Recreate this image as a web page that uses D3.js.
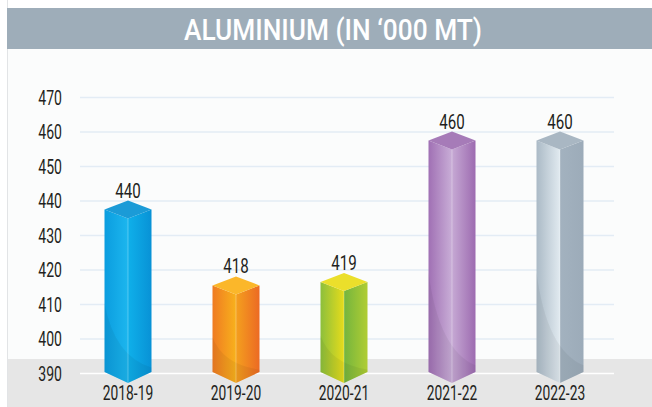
<!DOCTYPE html>
<html>
<head>
<meta charset="utf-8">
<script src="https://cdn.jsdelivr.net/npm/d3@7"></script>
<style>
  html, body { margin: 0; padding: 0; background: #ffffff; }
  svg { display: block; }
  text { font-family: "Roboto", "Noto Sans", sans-serif; }
</style>
</head>
<body>
<svg id="chart" width="652" height="407"></svg>
<script>
const titleText = "ALUMINIUM (IN \u2018000 MT)";
const categories = ["2018-19", "2019-20", "2020-21", "2021-22", "2022-23"];
const values = [440, 418, 419, 460, 460];
const tickValues = [390, 400, 410, 420, 430, 440, 450, 460, 470];
// per bar: top, left face (from, to), right face (from, to)
const barColors = [
  { top: "#1b9bd7", l1: "#0b9ddf", l2: "#1cb6ee", r1: "#0fb0ea", r2: "#0892d6" },
  { top: "#fbb72a", l1: "#ef7b22", l2: "#f8b11c", r1: "#f4a01e", r2: "#ec6a24" },
  { top: "#ebdf2b", l1: "#8cbf3c", l2: "#e6dc1b", r1: "#74b53e", r2: "#b0cd33" },
  { top: "#a67bb8", l1: "#a070b4", l2: "#c9aed7", r1: "#c6a9d4", r2: "#9d6bb0" },
  { top: "#a9b7c3", l1: "#abbac6", l2: "#e1eaf0", r1: "#a3b2bf", r2: "#9cabb9" }
];

const svg = d3.select("#chart");
const W = 652, H = 407;
const SX = 0.72; // horizontal condensing of text

// backgrounds
svg.append("rect").attr("x", 7).attr("y", 49).attr("width", W - 7).attr("height", 310).attr("fill", "#fbfcfc");
svg.append("rect").attr("x", 7).attr("y", 359).attr("width", W - 7).attr("height", H - 359).attr("fill", "#e6e6e6");
svg.append("line").attr("x1", 7.5).attr("x2", 7.5).attr("y1", 0).attr("y2", H).attr("stroke", "#e2e4e6").attr("stroke-width", 1);
svg.append("rect").attr("x", 7).attr("y", 8).attr("width", W - 7).attr("height", 41).attr("fill", "#9eadb9");
svg.append("text").attr("x", 333).attr("y", 40).attr("text-anchor", "middle")
  .attr("fill", "#ffffff").attr("font-size", 29).attr("font-weight", 500)
  .attr("textLength", 298).attr("lengthAdjust", "spacingAndGlyphs")
  .text(titleText);

const x = d3.scaleBand().domain(categories).range([74, 614]).padding(0);
const y = d3.scaleLinear().domain([390, 470]).range([373, 97]);

// gridlines
const grid = svg.append("g").attr("transform", "translate(80,0)")
  .call(d3.axisLeft(y).tickValues(tickValues).tickSize(-(614 - 80)).tickFormat(""));
grid.select(".domain").remove();
grid.selectAll(".tick line").attr("stroke", d => d === 390 ? "#ffffff" : "#e3ecf5").attr("stroke-width", 1.5);

// y tick labels
const yAxis = svg.append("g").attr("transform", "translate(62,0)")
  .call(d3.axisLeft(y).tickValues(tickValues).tickSize(0).tickPadding(0));
yAxis.select(".domain").remove();
yAxis.selectAll(".tick text").attr("font-size", 19.5).attr("fill", "#231f20").attr("font-weight", 400)
  .attr("font-family", "Roboto, sans-serif").attr("x", 0).attr("dy", "0.36em")
  .attr("transform", `scale(${SX},1)`);

// gradients
const defs = svg.append("defs");
barColors.forEach((c, i) => {
  const gl = defs.append("linearGradient").attr("id", "gl" + i).attr("x1", 0).attr("x2", 1).attr("y1", 0).attr("y2", 0);
  gl.append("stop").attr("offset", 0).attr("stop-color", c.l1);
  gl.append("stop").attr("offset", 1).attr("stop-color", c.l2);
  const gr = defs.append("linearGradient").attr("id", "gr" + i).attr("x1", 0).attr("x2", 1).attr("y1", 0).attr("y2", 0);
  gr.append("stop").attr("offset", 0).attr("stop-color", c.r1);
  gr.append("stop").attr("offset", 1).attr("stop-color", c.r2);
});

const hw = 23.5, dep = 9;
const data = categories.map((c, i) => ({ c, v: values[i], i }));
const bars = svg.append("g").selectAll("g").data(data).join("g");

bars.each(function(d) {
  const g = d3.select(this);
  const cx = x(d.c) + x.bandwidth() / 2;
  const yt = y(d.v);
  const yb = y(390) - 1;
  // left face
  g.append("path").attr("d", `M${cx - hw},${yt + dep} L${cx},${yt + 2 * dep} L${cx},${yb + dep + 2} L${cx - hw},${yb} Z`)
    .attr("fill", `url(#gl${d.i})`);
  // right face
  g.append("path").attr("d", `M${cx},${yt + 2 * dep} L${cx + hw},${yt + dep} L${cx + hw},${yb} L${cx},${yb + dep + 2} Z`)
    .attr("fill", `url(#gr${d.i})`);
  // subtle curved shade on lower part
  const h = yb - (yt + 2 * dep);
  const cy0 = yt + 2 * dep + h * 0.55;
  g.append("path").attr("d", `M${cx - hw},${cy0} Q${cx - hw + 10},${cy0 + h * 0.35} ${cx + hw},${cy0 + h * 0.42} L${cx + hw},${yb} L${cx},${yb + dep + 2} L${cx - hw},${yb} Z`)
    .attr("fill", "#000000").attr("opacity", 0.05);
  // edge highlight
  g.append("line").attr("x1", cx).attr("x2", cx).attr("y1", yt + 2 * dep).attr("y2", yb + dep + 2)
    .attr("stroke", "#ffffff").attr("stroke-opacity", 0.35).attr("stroke-width", 0.8);
  // top
  g.append("path").attr("d", `M${cx - hw},${yt + dep} L${cx},${yt} L${cx + hw},${yt + dep} L${cx},${yt + 2 * dep} Z`)
    .attr("fill", barColors[d.i].top);
  // value label
  g.append("g").attr("transform", `translate(${cx},${yt - 3})`)
    .append("text").attr("x", 0).attr("y", 0).attr("text-anchor", "middle")
    .attr("transform", `scale(${SX},1)`).attr("font-weight", 400)
    .attr("font-size", 21).attr("fill", "#231f20").text(d.v);
});

// x labels
const xAxis = svg.append("g").attr("transform", "translate(0,400)")
  .call(d3.axisBottom(x).tickSize(0).tickPadding(0));
xAxis.select(".domain").remove();
xAxis.selectAll(".tick text").attr("font-size", 20).attr("fill", "#231f20").attr("dy", 0).attr("y", 0)
  .attr("font-weight", 400)
  .attr("font-family", "Roboto, sans-serif").attr("transform", `scale(0.69,1)`);
</script>
</body>
</html>
